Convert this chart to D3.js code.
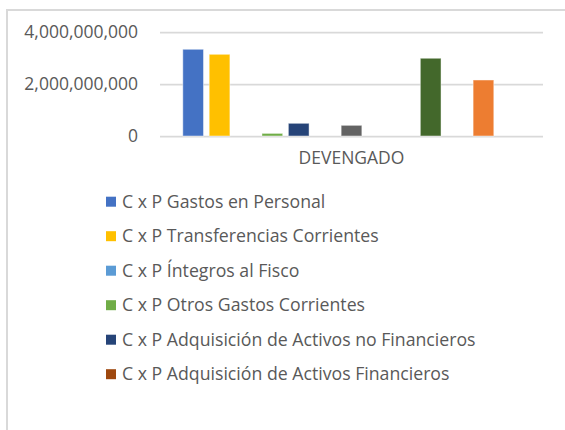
<!DOCTYPE html>
<html>
<head>
<meta charset="utf-8">
<script src="https://cdn.jsdelivr.net/npm/d3@7"></script>
<style>
  html, body { margin: 0; padding: 0; background: #fff; }
  svg { display: block; }
  text { font-family: "Open Sans", "DejaVu Sans", sans-serif; fill: #595959; }
</style>
</head>
<body>
<svg id="chart" width="565" height="430"></svg>
<script>
// Single category, one bar per account series
const categories = ["DEVENGADO"];
const seriesNames = [
  "C x P Gastos en Personal",
  "C x P Transferencias Corrientes",
  "C x P Íntegros al Fisco",
  "C x P Otros Gastos Corrientes",
  "C x P Adquisición de Activos no Financieros",
  "C x P Adquisición de Activos Financieros",
  "C x P Iniciativas de Inversión",
  "C x P Préstamos",
  "C x P Transferencias de Capital",
  "C x P Servicio de la Deuda",
  "C x P Bienes y Servicios de Consumo",
  "C x P Prestaciones de Seguridad Social",
  "C x P Otros Gastos"
];
const seriesValues = [
  3335000000, 3142000000, 0, 100000000, 488000000, 0,
  410000000, 0, 0, 2990000000, 0, 2154000000, 0
];
const seriesColors = [
  "#4472C4", "#FFC000", "#5B9BD5", "#70AD47", "#264478", "#9E480E",
  "#636363", "#997300", "#255E91", "#43682B", "#698ED0", "#ED7D31", "#B7B7B7"
];
const yTicks = [0, 2000000000, 4000000000];

const svg = d3.select("#chart");

// chart area border (left and top visible)
svg.append("rect")
  .attr("x", 7).attr("y", 10)
  .attr("width", 600).attr("height", 500)
  .attr("fill", "none")
  .attr("stroke", "#d9d9d9")
  .attr("stroke-width", 2);

const plot = { left: 160, right: 543, top: 32, bottom: 136 };

const y = d3.scaleLinear().domain([0, 4000000000]).range([plot.bottom, plot.top]);

const x0 = d3.scaleBand()
  .domain(categories)
  .range([plot.left, plot.right])
  .paddingInner(0)
  .paddingOuter(0.0676);

const x1 = d3.scaleBand()
  .domain(d3.range(seriesNames.length))
  .range([0, x0.bandwidth()])
  .paddingInner(0.216)
  .paddingOuter(0);

// gridlines and tick labels
const yAxis = d3.axisLeft(y)
  .tickValues(yTicks)
  .tickSize(-(plot.right - plot.left))
  .tickPadding(22)
  .tickFormat(d3.format(","));

const gy = svg.append("g")
  .attr("transform", `translate(${plot.left},0)`)
  .call(yAxis);
gy.select(".domain").remove();
gy.selectAll(".tick line")
  .attr("stroke", "#d9d9d9")
  .attr("stroke-width", 1.75);
gy.selectAll(".tick text")
  .attr("font-size", 17.5)
  .attr("fill", "#595959")
  .attr("font-family", null);

// bars
const cat = svg.append("g")
  .selectAll("g")
  .data(categories)
  .join("g")
  .attr("transform", d => `translate(${x0(d)},0)`);

cat.selectAll("rect")
  .data(seriesValues.map((v, i) => ({ i, v })))
  .join("rect")
  .attr("x", d => x1(d.i))
  .attr("y", d => y(d.v))
  .attr("width", x1.bandwidth())
  .attr("height", d => y(0) - y(d.v))
  .attr("fill", d => seriesColors[d.i])
  .attr("stroke", "#ffffff")
  .attr("stroke-opacity", 0.45)
  .attr("stroke-width", 1);

// category axis label
svg.append("g")
  .selectAll("text")
  .data(categories)
  .join("text")
  .attr("x", d => x0(d) + x0.bandwidth() / 2)
  .attr("y", 164)
  .attr("text-anchor", "middle")
  .attr("font-size", 17.5)
  .text(d => d);

// legend: only the rows that fit in the space below the plot
const legendTop = 201.7, rowH = 34.5, legendBottom = 392;
const rowsThatFit = Math.floor((legendBottom - legendTop) / rowH) + 1;
const legendEntries = seriesNames
  .map((name, i) => ({ name, color: seriesColors[i] }))
  .slice(0, rowsThatFit);

const items = svg.append("g")
  .selectAll("g")
  .data(legendEntries)
  .join("g")
  .attr("transform", (d, i) => `translate(106,${legendTop + i * rowH})`);

items.append("rect")
  .attr("x", 0).attr("y", -5)
  .attr("width", 10).attr("height", 10)
  .attr("fill", d => d.color);

items.append("text")
  .attr("x", 16)
  .attr("y", 0)
  .attr("dy", "0.35em")
  .attr("font-size", 17.7)
  .text(d => d.name);
</script>
</body>
</html>
